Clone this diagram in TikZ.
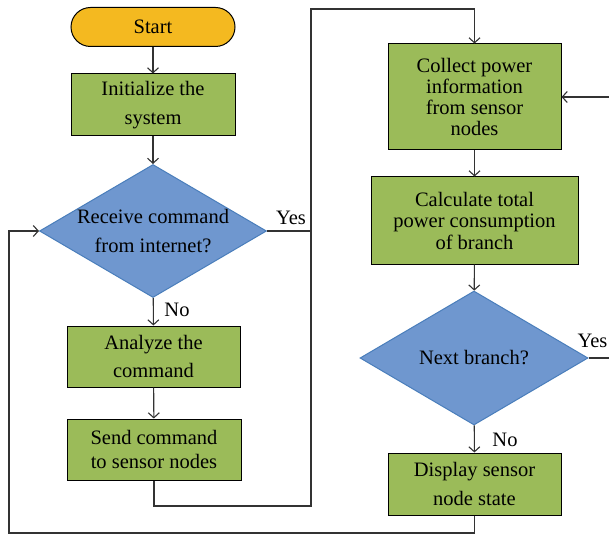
\documentclass[tikz,border=0pt]{standalone}
\usepackage{fontspec}
\setmainfont{Liberation Serif}
\usetikzlibrary{shapes.geometric,arrows.meta}
\definecolor{startorange}{HTML}{F4B920}
\definecolor{boxgreen}{HTML}{9BBB59}
\definecolor{decblue}{HTML}{6F97CF}
\definecolor{decedge}{HTML}{4A7EBB}
\definecolor{linegray}{HTML}{333333}
\tikzset{
  flowtext/.style={font=\fontsize{20.5}{28.5}\selectfont},
  terminal/.style={flowtext, draw=black, fill=startorange, rounded corners=19.5pt, minimum width=164pt, minimum height=39pt, inner sep=0pt, line width=1pt},
  process/.style={flowtext, draw=black, fill=boxgreen, align=center, inner sep=0pt, line width=1pt},
  decision/.style={diamond, draw=decedge, fill=decblue, inner sep=0pt, line width=1pt},
  connector/.style={draw=linegray, line width=1.1pt},
  flowline/.style={connector, -{Straight Barb[length=5pt,width=11pt]}}
}
\begin{document}
\begin{tikzpicture}[x=1pt,y=-1pt]
    \useasboundingbox (0,0) rectangle (609,534);
    % left column
    \node [terminal] (start) at (153,27) {Start};
    \node [process, minimum width=164pt, minimum height=62pt] (init) at (153,105) {Initialize the\\system};
    \node [decision, minimum width=227pt, minimum height=133pt, label={[flowtext,align=center]center:Receive command\\from internet?}] (recv) at (153,231) {};
    \node [process, minimum width=173pt, minimum height=61pt] (analyze) at (153.5,356.5) {Analyze the\\command};
    \node [process, minimum width=174pt, minimum height=61pt, font=\fontsize{20.5}{24}\selectfont] (send) at (154,449.5) {Send command\\to sensor nodes};
    % right column
    \node [process, minimum width=173pt, minimum height=106pt, font=\fontsize{20.5}{21}\selectfont] (collect) at (474.5,97) {Collect power\\information\\from sensor\\nodes};
    \node [process, minimum width=207pt, minimum height=87pt, font=\fontsize{20.5}{21.5}\selectfont] (calc) at (474.5,220.5) {Calculate total\\power consumption\\of branch};
    \node [decision, minimum width=228pt, minimum height=134pt, label={[flowtext]center:Next branch?}] (next) at (474,358) {};
    \node [process, minimum width=173pt, minimum height=62pt] (display) at (474.5,484) {Display sensor\\node state};
    % branch labels
    \node [flowtext] (recvyes) at (291,218) {Yes};
    \node [flowtext] (recvno) at (177,310) {No};
    \node [flowtext] (nextyes) at (592.5,341) {Yes};
    \node [flowtext] (nextno) at (505,440) {No};
    % turning points
    \coordinate (YesJoin)    at (311,231);
    \coordinate (SendTurn)   at (311,506);
    \coordinate (TopTurn)    at (311,9);
    \coordinate (LoopCorner) at (9,533);
    \coordinate (NextOut)    at (609,358);
    \coordinate (BackIn)     at (609,97);
    % connectors
    \draw [flowline] (start) -- (init);
    \draw [flowline] (init) -- (recv);
    \draw [flowline] (recv) -- (analyze);
    \draw [flowline] (analyze) -- (send);
    \draw [flowline] (send.south) |- (SendTurn) -- (TopTurn) -| (collect.north);% over to the right column
    \draw [connector] (recv.east) -- (YesJoin);
    \draw [flowline] (collect) -- (calc);
    \draw [flowline] (calc) -- (next);
    \draw [flowline] (next) -- (display);
    \draw [connector] (next.east) -- (NextOut);
    \draw [flowline] (BackIn) -- (collect.east);
    \draw [flowline] (display.south) |- (LoopCorner) |- (recv.west);% back to the first decision
\end{tikzpicture}
\end{document}
